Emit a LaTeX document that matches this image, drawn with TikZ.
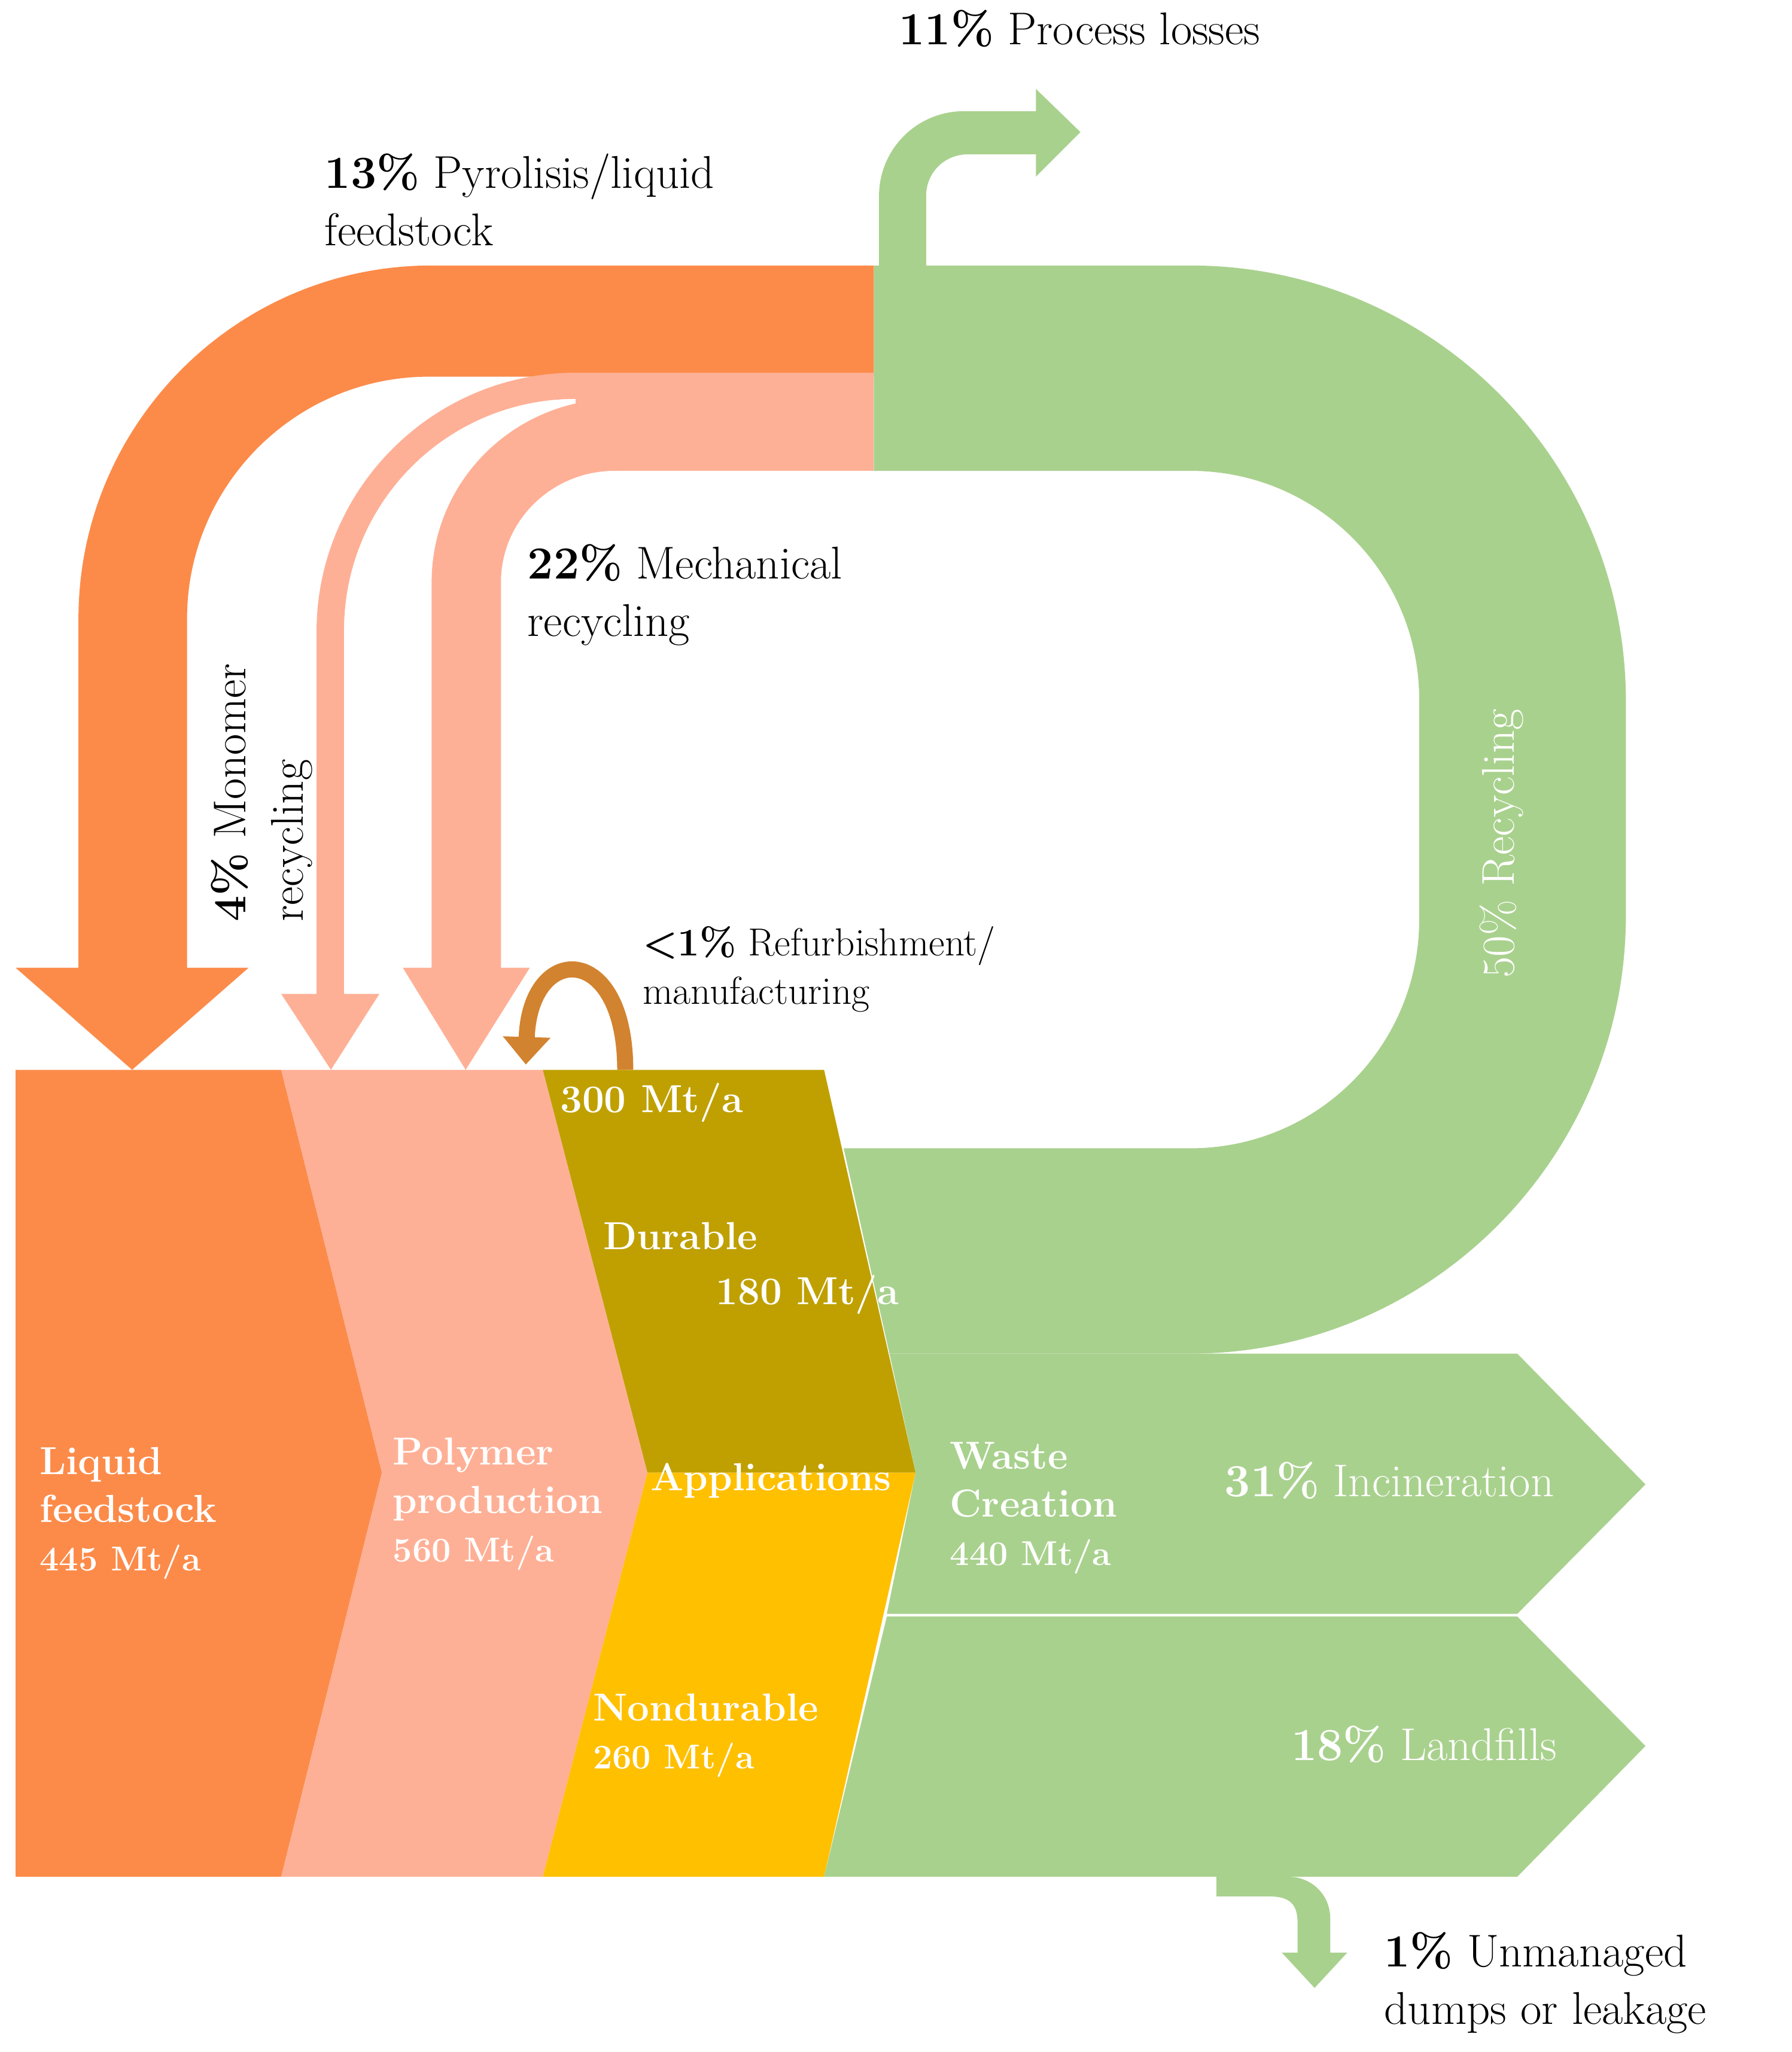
\documentclass[tikz,border=0pt]{standalone}
\usetikzlibrary{arrows.meta}
\definecolor{cor}{HTML}{FC8B4A}
\definecolor{csa}{HTML}{FEB096}
\definecolor{cgo}{HTML}{BFA000}
\definecolor{cye}{HTML}{FFC000}
\definecolor{cgr}{HTML}{A9D18E}
\begin{document}
\begin{tikzpicture}[x=0.02cm,y=-0.02cm,
  lab/.style={anchor=west,font=\fontsize{20}{25}\selectfont,align=left,inner sep=0},
  wl/.style={anchor=west,font=\bfseries\fontsize{17}{21}\selectfont,text=white,align=left,inner sep=0},
  wn/.style={anchor=west,font=\fontsize{20}{25}\selectfont,text=white,inner sep=0}]
\useasboundingbox (0,0) rectangle (1370,1569);
% process losses arrow
\fill[cgr] (672,210) -- (672,150) .. controls (672,114) and (701,85) .. (737,85) -- (792,85) -- (792,68) -- (826,101) -- (792,135) -- (792,118) -- (740,118) .. controls (722,118) and (708,132) .. (708,150) -- (708,210) -- cycle;
% green loop
\fill[cgr] (668,203) -- (910,203) .. controls (1094,203) and (1243,352) .. (1243,536) -- (1243,700) .. controls (1243,884) and (1094,1035) .. (910,1035) -- (680,1035) -- (645,878) -- (910,878) .. controls (1007,878) and (1085,800) .. (1085,703) -- (1085,535) .. controls (1085,438) and (1007,360) .. (910,360) -- (668,360) -- cycle;
% pyrolysis orange
\fill[cor] (668,203) -- (330,203) .. controls (181,203) and (60,324) .. (60,473) -- (60,740) -- (12,740) -- (101,818) -- (190,740) -- (143,740) -- (143,473) .. controls (143,371) and (226,288) .. (328,288) -- (668,288) -- cycle;
% salmon horizontal
\fill[csa] (440,285) rectangle (668,360);
% monomer
\fill[csa] (440,285) .. controls (331,285) and (242,374) .. (242,483) -- (242,760) -- (215,760) -- (253,818) -- (290,760) -- (263,760) -- (263,482) .. controls (263,384) and (342,305) .. (440,305) -- cycle;
% mechanical
\fill[csa] (472,305) .. controls (393,305) and (330,368) .. (330,445) -- (330,740) -- (308,740) -- (356,818) -- (405,740) -- (383,740) -- (383,445) .. controls (383,398) and (422,360) .. (470,360) -- (472,360) -- cycle;
% refurbishment arc
\draw[line width=7pt,color=cor!70!cgo!90!black,-{Triangle[length=12pt,width=20pt]}] (478,818) .. controls (478,720) and (405,720) .. (402,814);
% blocks
\fill[cor] (12,818) -- (215,818) -- (292,1126) -- (215,1435) -- (12,1435) -- cycle;
\fill[csa] (215,818) -- (415,818) -- (495,1126) -- (415,1435) -- (215,1435) -- (292,1126) -- cycle;
\fill[cgo] (415,818) -- (630,818) -- (700,1126) -- (495,1126) -- cycle;
\fill[cye] (495,1126) -- (700,1126) -- (630,1435) -- (415,1435) -- cycle;
\fill[cgr] (680,1035) -- (1160,1035) -- (1258,1135) -- (1160,1234) -- (678,1234) -- (700,1126) -- cycle;
\fill[cgr] (678,1236) -- (1160,1236) -- (1258,1335) -- (1160,1435) -- (630,1435) -- cycle;
% unmanaged
\fill[cgr] (930,1435) -- (985,1435) .. controls (1003,1435) and (1017,1449) .. (1017,1467) -- (1017,1493) -- (1030,1493) -- (1005,1520) -- (980,1493) -- (992,1493) -- (992,1470) .. controls (992,1455) and (985,1450) .. (970,1450) -- (930,1450) -- cycle;
% labels
\node[lab] (t1) at (687,22) {\textbf{11\%} Process losses};
\node[lab] (t2) at (248,153) {\textbf{13\%} Pyrolisis/liquid\\feedstock};
\node[lab] (t3) at (403,455) {\textbf{22\%} Mechanical\\recycling};
\node[lab,rotate=90] (t4) at (200,705) {\textbf{4\%} Monomer\\recycling};
\node[wn,rotate=90] (t5) at (1148,748) {50\% Recycling};
\node[lab,font=\fontsize{17}{21}\selectfont] (t6) at (491,741) {\textbf{<1\%} Refurbishment/\\manufacturing};
\node[wl] (a1) at (428,843) {300 Mt/a};
\node[wl] (a2) at (461,945) {Durable};
\node[wl] (a3) at (547,990) {180 Mt/a};
\node[wl] (a4) at (30,1157) {Liquid\\feedstock\\{\fontsize{15}{19}\selectfont 445 Mt/a}};
\node[wl] (a5) at (300,1150) {Polymer\\production\\{\fontsize{15}{19}\selectfont 560 Mt/a}};
\node[wl] (a6) at (497,1132) {Applications};
\node[wl] (a7) at (726,1153) {Waste\\Creation\\{\fontsize{15}{19}\selectfont 440 Mt/a}};
\node[wl] (a8) at (453,1327) {Nondurable\\{\fontsize{15}{19}\selectfont 260 Mt/a}};
\node[wn] (a9) at (936,1132) {\textbf{31\%} Incineration};
\node[wn] (a10) at (987,1334) {\textbf{18\%} Landfills};
\node[lab] (t7) at (1058,1516) {\textbf{1\%} Unmanaged\\dumps or leakage};
\end{tikzpicture}
\end{document}
